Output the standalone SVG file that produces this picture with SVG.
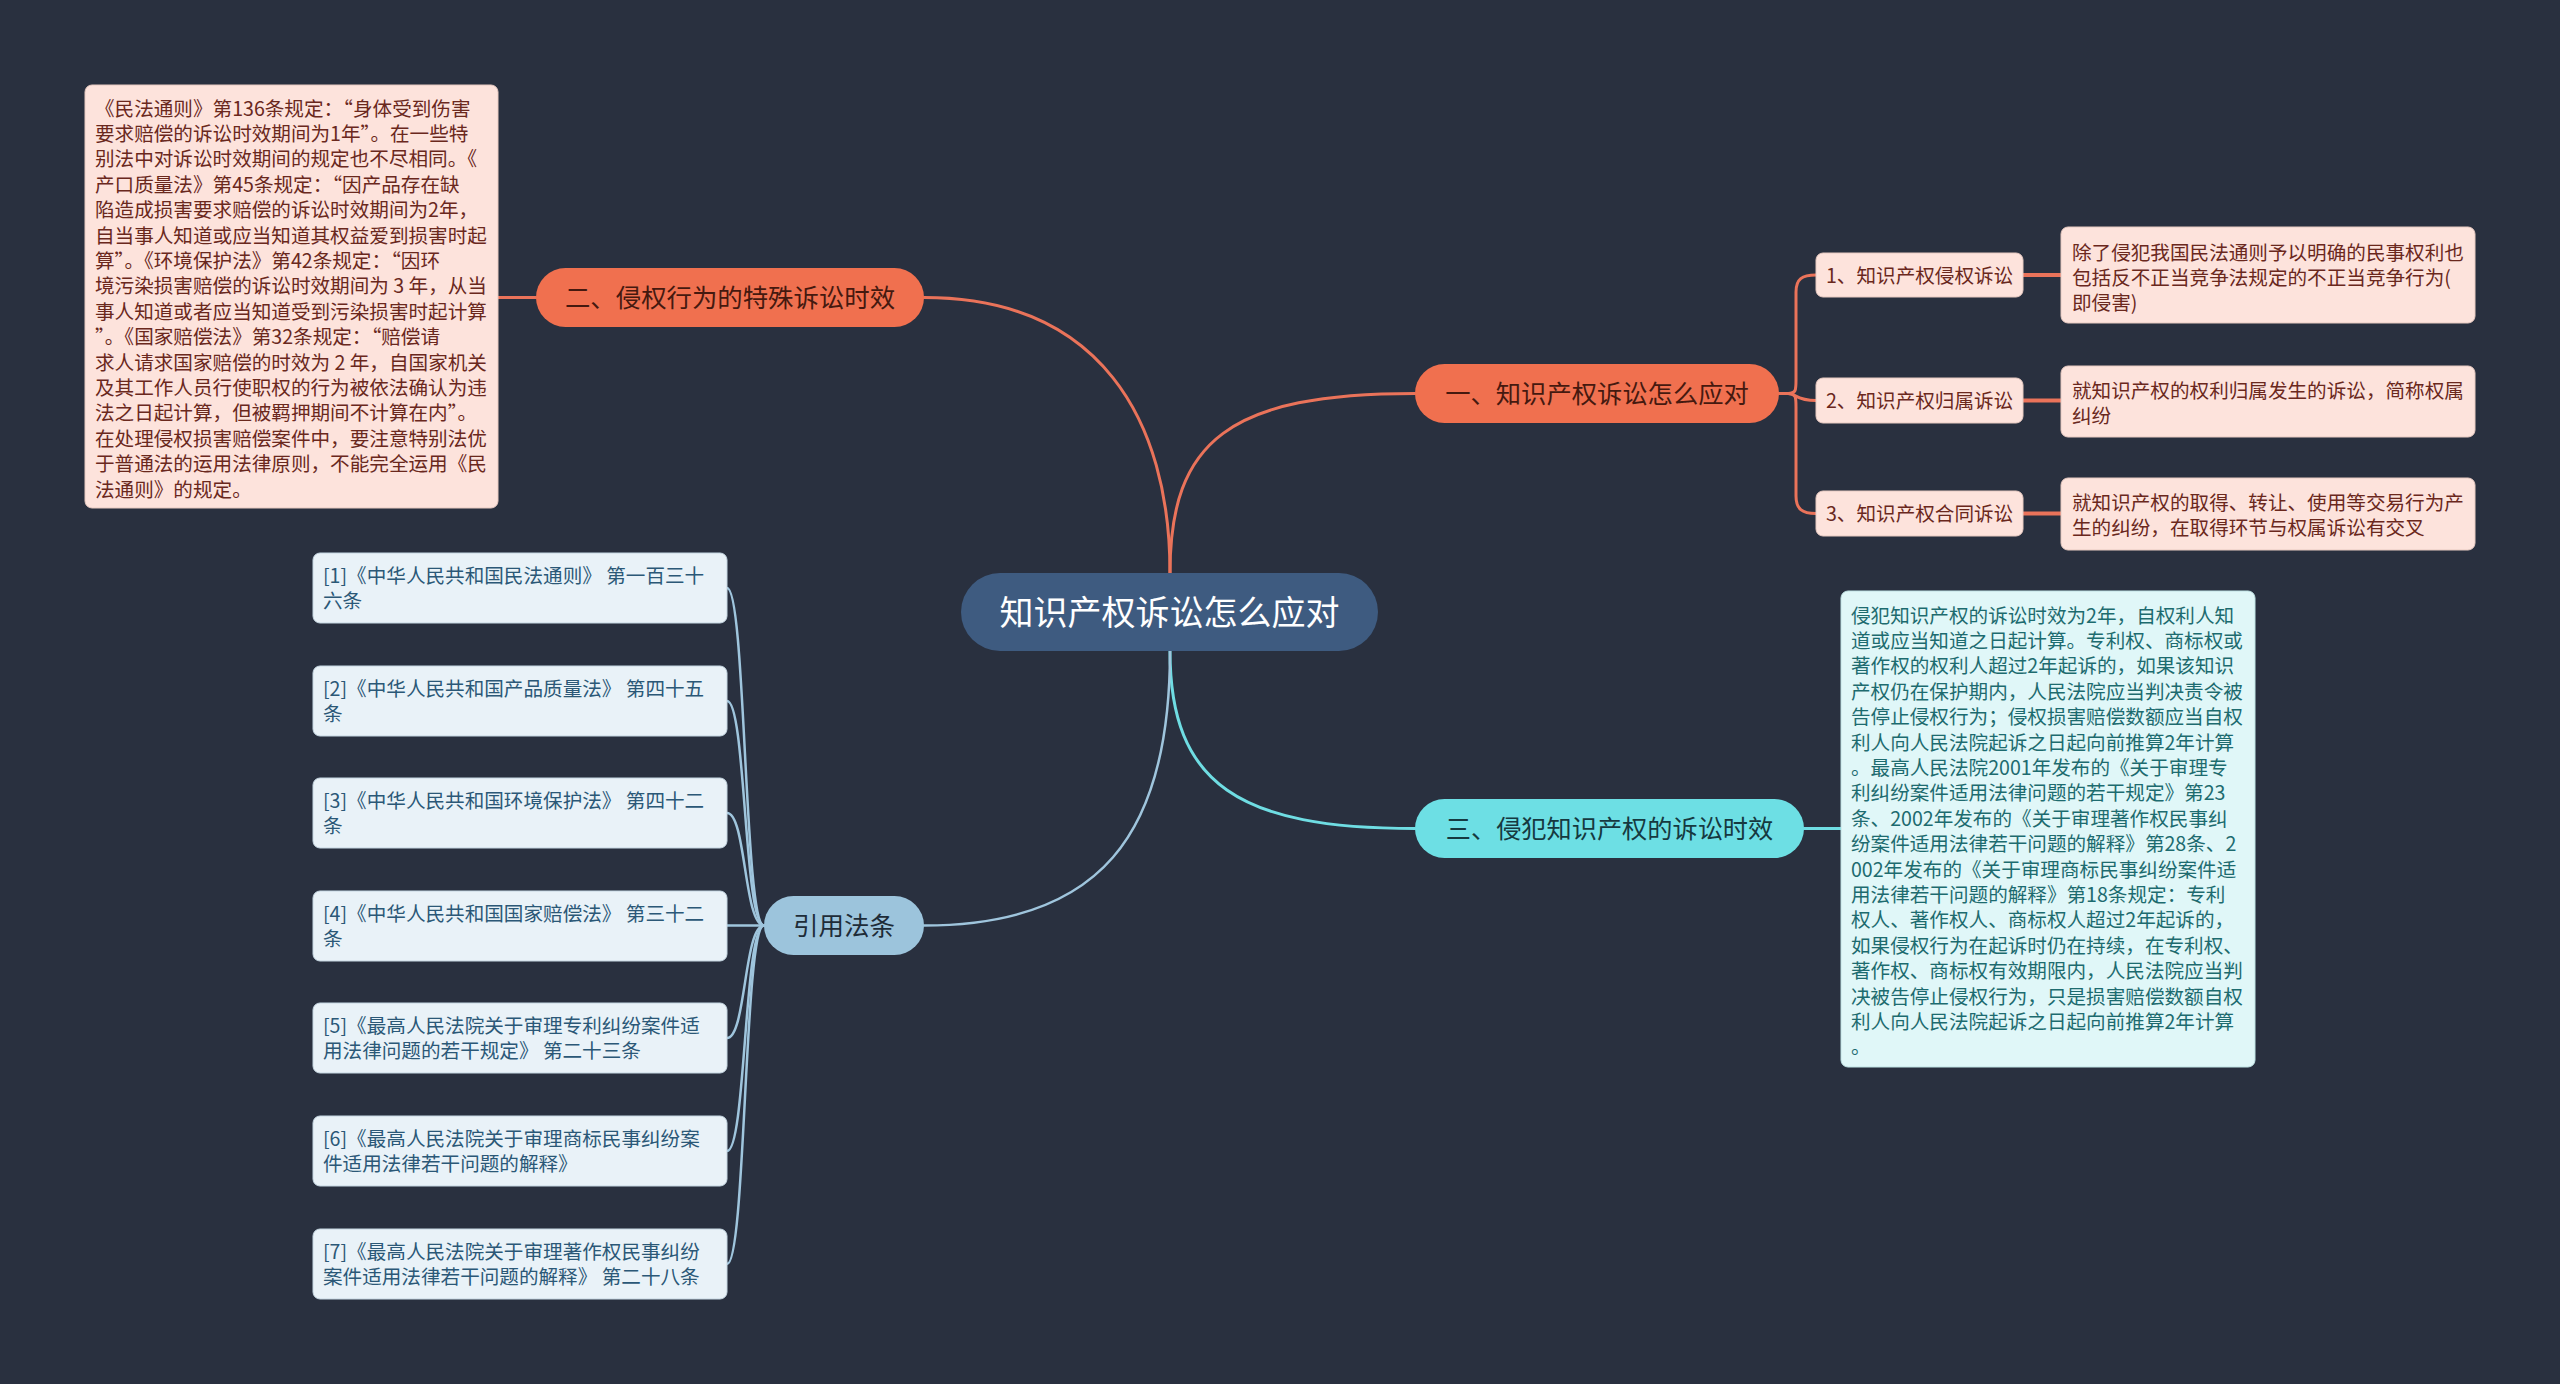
<svg xmlns="http://www.w3.org/2000/svg" width="2560" height="1384" viewBox="0 0 2560 1384">
<style>
text{font-family:"Noto Sans CJK SC","Noto Sans",sans-serif;}
.conn{fill:none;stroke-linecap:round;}
.co{stroke:#ea735a;stroke-width:3;}
.cy{stroke:#6fdde3;stroke-width:3;}
.bl{stroke:#9fc5dd;stroke-width:2.5;}
.pinkbox{fill:#fde3dc;stroke:#e6c9c1;stroke-width:1;}
.pinktxt{fill:#6a281d;font-size:19.6px;}
.cyanbox{fill:#e0f7f8;stroke:#bfe2e4;stroke-width:1;}
.cyantxt{fill:#1d6b6f;font-size:19.6px;}
.refbox{fill:#e9f2f8;stroke:#c5d6e2;stroke-width:1;}
.reftxt{fill:#2b5877;font-size:19.6px;}
.mid{text-anchor:middle;}
</style>
<rect x="0" y="0" width="2560" height="1384" fill="#29303f"/>

<g id="connectors">
<path class="conn co" d="M1170 573 C1170 440 1230 393.5 1415 393.5"/>
<path class="conn co" d="M1170 573 C1170 420 1100 297.5 924 297.5"/>
<path class="conn cy" d="M1170 651 C1170 785 1240 828.5 1415 828.5"/>
<path class="conn bl" d="M1170 651 C1170 835 1100 925.5 924 925.5"/>
<path class="conn co" d="M536 297.5 L498 297.5"/>
<path class="conn cy" d="M1804 828.5 L1841 828.5"/>
<path class="conn co" d="M1779 393.5 L1788 393.5 C1796 393.5 1796 390 1796 380 L1796 292 C1796 279 1802 275 1816 275"/>
<path class="conn co" d="M1779 393.5 L1788 393.5 C1796 393.5 1796 400.5 1816 400.5"/>
<path class="conn co" d="M1779 393.5 L1788 393.5 C1796 393.5 1796 397 1796 407 L1796 496 C1796 509 1802 513.5 1816 513.5"/>
<path class="conn co" style="stroke-width:4" d="M2023 275 L2061 275"/>
<path class="conn co" style="stroke-width:4" d="M2023 400.5 L2061 400.5"/>
<path class="conn co" style="stroke-width:4" d="M2023 513.5 L2061 513.5"/>
<path class="conn bl" d="M764 925.5 C744 925.5 746 588 727 588"/>
<path class="conn bl" d="M764 925.5 C744 925.5 746 701 727 701"/>
<path class="conn bl" d="M764 925.5 C744 925.5 746 813 727 813"/>
<path class="conn bl" d="M764 925.5 L727 925.5"/>
<path class="conn bl" d="M764 925.5 C744 925.5 746 1038 727 1038"/>
<path class="conn bl" d="M764 925.5 C744 925.5 746 1151 727 1151"/>
<path class="conn bl" d="M764 925.5 C744 925.5 746 1264 727 1264"/>
</g>

<g id="center">
<rect x="961" y="573" width="417" height="78" rx="39" fill="#3e5b80"/>
<text class="mid" x="1169.5" y="625" font-size="34" fill="#ffffff">知识产权诉讼怎么应对</text>
</g>

<g id="n2">
<rect x="536" y="268" width="388" height="59" rx="29.5" fill="#f0704f"/>
<text class="mid" x="730" y="307" font-size="25.4" fill="#45190f">二、侵权行为的特殊诉讼时效</text>
</g>

<g id="n2-desc">
<rect class="pinkbox" x="85" y="85" width="413" height="423" rx="7"/>
<text class="pinktxt" xml:space="preserve"><tspan x="95" y="115.5">《民法通则》第136条规定：“身体受到伤害</tspan><tspan x="95" y="140.9">要求赔偿的诉讼时效期间为1年”。在一些特</tspan><tspan x="95" y="166.3">别法中对诉讼时效期间的规定也不尽相同。《</tspan><tspan x="95" y="191.7">产口质量法》第45条规定：“因产品存在缺</tspan><tspan x="95" y="217.1">陷造成损害要求赔偿的诉讼时效期间为2年，</tspan><tspan x="95" y="242.5">自当事人知道或应当知道其权益爱到损害时起</tspan><tspan x="95" y="267.9">算”。《环境保护法》第42条规定：“因环</tspan><tspan x="95" y="293.3">境污染损害赔偿的诉讼时效期间为 3 年，从当</tspan><tspan x="95" y="318.7">事人知道或者应当知道受到污染损害时起计算</tspan><tspan x="95" y="344.1">”。《国家赔偿法》第32条规定：“赔偿请</tspan><tspan x="95" y="369.5">求人请求国家赔偿的时效为 2 年，自国家机关</tspan><tspan x="95" y="394.9">及其工作人员行使职权的行为被依法确认为违</tspan><tspan x="95" y="420.3">法之日起计算，但被羁押期间不计算在内”。</tspan><tspan x="95" y="445.7">在处理侵权损害赔偿案件中，要注意特别法优</tspan><tspan x="95" y="471.1">于普通法的运用法律原则，不能完全运用《民</tspan><tspan x="95" y="496.5">法通则》的规定。</tspan></text>
</g>

<g id="n1">
<rect x="1415" y="364" width="364" height="59" rx="29.5" fill="#f0704f"/>
<text class="mid" x="1597" y="403" font-size="25.3" fill="#45190f">一、知识产权诉讼怎么应对</text>
</g>

<g id="n1-1">
<rect class="pinkbox" x="1816" y="253" width="207" height="44" rx="7"/>
<text class="pinktxt" x="1826" y="282.5">1、知识产权侵权诉讼</text>
</g>
<g id="n1-1-desc">
<rect class="pinkbox" x="2061" y="227" width="414" height="96" rx="7"/>
<text class="pinktxt"><tspan x="2072" y="259.5">除了侵犯我国民法通则予以明确的民事权利也</tspan><tspan x="2072" y="284.9">包括反不正当竞争法规定的不正当竞争行为(</tspan><tspan x="2072" y="310.3">即侵害)</tspan></text>
</g>
<g id="n1-2">
<rect class="pinkbox" x="1816" y="378" width="207" height="45" rx="7"/>
<text class="pinktxt" x="1826" y="408">2、知识产权归属诉讼</text>
</g>
<g id="n1-2-desc">
<rect class="pinkbox" x="2061" y="366" width="414" height="71" rx="7"/>
<text class="pinktxt"><tspan x="2072" y="397.5">就知识产权的权利归属发生的诉讼，简称权属</tspan><tspan x="2072" y="422.9">纠纷</tspan></text>
</g>
<g id="n1-3">
<rect class="pinkbox" x="1816" y="491" width="207" height="45" rx="7"/>
<text class="pinktxt" x="1826" y="521">3、知识产权合同诉讼</text>
</g>
<g id="n1-3-desc">
<rect class="pinkbox" x="2061" y="478" width="414" height="72" rx="7"/>
<text class="pinktxt"><tspan x="2072" y="509.5">就知识产权的取得、转让、使用等交易行为产</tspan><tspan x="2072" y="534.9">生的纠纷，在取得环节与权属诉讼有交叉</tspan></text>
</g>

<g id="n3">
<rect x="1415" y="799" width="389" height="59" rx="29.5" fill="#6ddfe4"/>
<text class="mid" x="1609.5" y="838" font-size="25.2" fill="#163940">三、侵犯知识产权的诉讼时效</text>
</g>
<g id="n3-desc">
<rect class="cyanbox" x="1841" y="591" width="414" height="476" rx="7"/>
<text class="cyantxt"><tspan x="1851" y="622.5">侵犯知识产权的诉讼时效为2年，自权利人知</tspan><tspan x="1851" y="647.9">道或应当知道之日起计算。专利权、商标权或</tspan><tspan x="1851" y="673.3">著作权的权利人超过2年起诉的，如果该知识</tspan><tspan x="1851" y="698.7">产权仍在保护期内，人民法院应当判决责令被</tspan><tspan x="1851" y="724.1">告停止侵权行为；侵权损害赔偿数额应当自权</tspan><tspan x="1851" y="749.5">利人向人民法院起诉之日起向前推算2年计算</tspan><tspan x="1851" y="774.9">。最高人民法院2001年发布的《关于审理专</tspan><tspan x="1851" y="800.3">利纠纷案件适用法律问题的若干规定》第23</tspan><tspan x="1851" y="825.7">条、2002年发布的《关于审理著作权民事纠</tspan><tspan x="1851" y="851.1">纷案件适用法律若干问题的解释》第28条、2</tspan><tspan x="1851" y="876.5">002年发布的《关于审理商标民事纠纷案件适</tspan><tspan x="1851" y="901.9">用法律若干问题的解释》第18条规定：专利</tspan><tspan x="1851" y="927.3">权人、著作权人、商标权人超过2年起诉的，</tspan><tspan x="1851" y="952.7">如果侵权行为在起诉时仍在持续，在专利权、</tspan><tspan x="1851" y="978.1">著作权、商标权有效期限内，人民法院应当判</tspan><tspan x="1851" y="1003.5">决被告停止侵权行为，只是损害赔偿数额自权</tspan><tspan x="1851" y="1028.9">利人向人民法院起诉之日起向前推算2年计算</tspan><tspan x="1851" y="1054.3">。</tspan></text>
</g>

<g id="n4">
<rect x="764" y="896" width="160" height="59" rx="29.5" fill="#9cc4dc"/>
<text class="mid" x="844" y="935" font-size="25.5" fill="#1e2c38">引用法条</text>
</g>
<g id="ref1">
<rect class="refbox" x="313" y="553" width="414" height="70" rx="7"/>
<text class="reftxt" xml:space="preserve"><tspan x="323" y="583">[1]《中华人民共和国民法通则》 第一百三十</tspan><tspan x="323" y="608.4">六条</tspan></text>
</g>
<g id="ref2">
<rect class="refbox" x="313" y="666" width="414" height="70" rx="7"/>
<text class="reftxt" xml:space="preserve"><tspan x="323" y="696">[2]《中华人民共和国产品质量法》 第四十五</tspan><tspan x="323" y="721.4">条</tspan></text>
</g>
<g id="ref3">
<rect class="refbox" x="313" y="778" width="414" height="70" rx="7"/>
<text class="reftxt" xml:space="preserve"><tspan x="323" y="808">[3]《中华人民共和国环境保护法》 第四十二</tspan><tspan x="323" y="833.4">条</tspan></text>
</g>
<g id="ref4">
<rect class="refbox" x="313" y="891" width="414" height="70" rx="7"/>
<text class="reftxt" xml:space="preserve"><tspan x="323" y="921">[4]《中华人民共和国国家赔偿法》 第三十二</tspan><tspan x="323" y="946.4">条</tspan></text>
</g>
<g id="ref5">
<rect class="refbox" x="313" y="1003" width="414" height="70" rx="7"/>
<text class="reftxt" xml:space="preserve"><tspan x="323" y="1033">[5]《最高人民法院关于审理专利纠纷案件适</tspan><tspan x="323" y="1058.4">用法律问题的若干规定》 第二十三条</tspan></text>
</g>
<g id="ref6">
<rect class="refbox" x="313" y="1116" width="414" height="70" rx="7"/>
<text class="reftxt" xml:space="preserve"><tspan x="323" y="1146">[6]《最高人民法院关于审理商标民事纠纷案</tspan><tspan x="323" y="1171.4">件适用法律若干问题的解释》</tspan></text>
</g>
<g id="ref7">
<rect class="refbox" x="313" y="1229" width="414" height="70" rx="7"/>
<text class="reftxt" xml:space="preserve"><tspan x="323" y="1259">[7]《最高人民法院关于审理著作权民事纠纷</tspan><tspan x="323" y="1284.4">案件适用法律若干问题的解释》 第二十八条</tspan></text>
</g>
</svg>
